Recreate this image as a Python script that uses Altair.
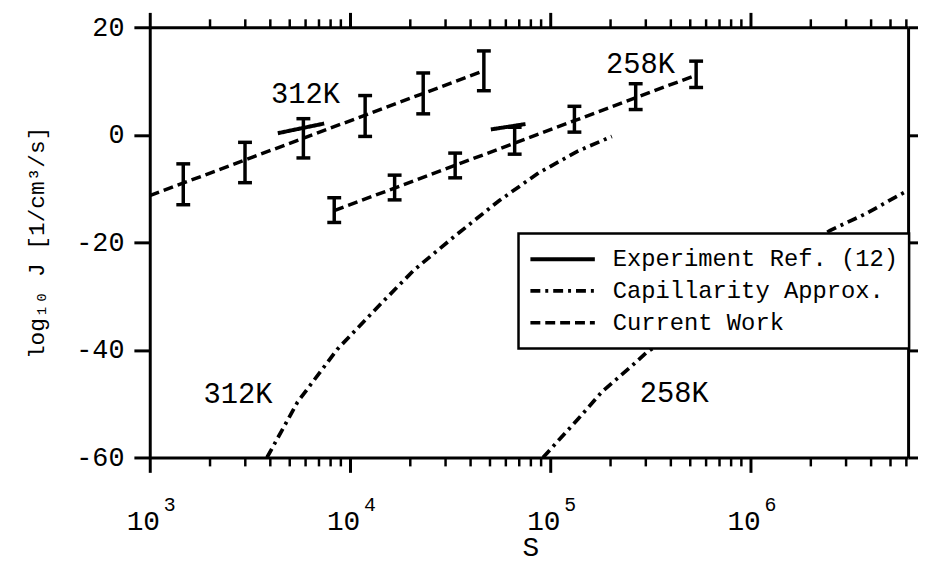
import altair as alt
import pandas as pd

# ---------------- data ----------------
series_names = ["Experiment Ref. (12)", "Capillarity Approx.", "Current Work"]

# Current Work error bars (312 K)
cw312_S = [1.47e3, 2.99e3, 5.85e3, 1.19e4, 2.32e4, 4.66e4]
cw312_lo = [-13.0, -8.9, -4.3, -0.3, 3.9, 8.2]
cw312_hi = [-5.4, -1.4, 3.0, 7.3, 11.5, 15.6]

# Current Work error bars (258 K)
cw258_S = [8.34e3, 1.67e4, 3.35e4, 6.64e4, 1.32e5, 2.67e5, 5.35e5]
cw258_lo = [-16.3, -12.1, -8.0, -3.6, 0.5, 4.7, 8.8]
cw258_hi = [-11.7, -7.5, -3.4, 1.4, 5.3, 9.5, 13.7]

# Current Work fitted lines
cw312_line_S = [1.0e3, 4.66e4]
cw312_line_J = [-11.3, 11.9]
cw258_line_S = [8.34e3, 5.35e5]
cw258_line_J = [-14.1, 11.1]

# Experiment Ref. (12)
exp312_S = [4.36e3, 7.43e3]
exp312_J = [0.3, 2.1]
exp258_S = [5.05e4, 7.52e4]
exp258_J = [1.0, 2.0]

# Capillarity Approx.
cap312_S = [3.85e3, 5.47e3, 8.63e3, 1.41e4, 2.08e4, 3.27e4, 5.53e4, 8.73e4, 1.38e5, 2.03e5]
cap312_J = [-60.0, -49.7, -39.9, -31.6, -25.2, -19.1, -12.3, -7.1, -3.0, -0.3]
cap258_S = [9.2e4, 1.38e5, 1.81e5, 2.55e5, 3.02e5, 2.49e6, 3.75e6, 6.12e6]
cap258_J = [-60.0, -52.8, -47.8, -43.0, -40.5, -17.8, -14.7, -10.3]

# temperature labels
label_text = ["312K", "258K", "312K", "258K"]
label_S = [5.99e3, 2.82e5, 2.76e3, 4.16e5]
label_J = [7.6, 13.2, -48.2, -48.0]

# axes
x_domain = [1.0e3, 6.12e6]
y_domain = [-60, 20]
decades = [1.0e3, 1.0e4, 1.0e5, 1.0e6]
decade_exp = ["3", "4", "5", "6"]
minor_ticks = [2e3, 3e3, 4e3, 5e3, 6e3, 7e3, 8e3, 9e3,
               2e4, 3e4, 4e4, 5e4, 6e4, 7e4, 8e4, 9e4,
               2e5, 3e5, 4e5, 5e5, 6e5, 7e5, 8e5, 9e5,
               2e6, 3e6, 4e6, 5e6, 6e6]
y_ticks = [-60, -40, -20, 0, 20]

# ---------------- tables ----------------
def curve(S, J, series, name):
    return pd.DataFrame({"S": S, "J": J, "series": series, "curve": name})

lines_df = pd.concat([
    curve(exp312_S, exp312_J, series_names[0], "exp312"),
    curve(exp258_S, exp258_J, series_names[0], "exp258"),
    curve(cap312_S, cap312_J, series_names[1], "cap312"),
    curve(cap258_S, cap258_J, series_names[1], "cap258"),
    curve(cw312_line_S, cw312_line_J, series_names[2], "cw312"),
    curve(cw258_line_S, cw258_line_J, series_names[2], "cw258"),
], ignore_index=True)

eb_df = pd.DataFrame({
    "S": cw312_S + cw258_S,
    "lo": cw312_lo + cw258_lo,
    "hi": cw312_hi + cw258_hi,
})
caps_df = pd.DataFrame({
    "S": cw312_S + cw258_S + cw312_S + cw258_S,
    "J": cw312_lo + cw258_lo + cw312_hi + cw258_hi,
})
labels_df = pd.DataFrame({"S": label_S, "J": label_J, "text": label_text})
sup_df = pd.DataFrame({"S": decades, "text": decade_exp})
minor_df = pd.DataFrame({"S": minor_ticks})

W, H = 765, 434
xscale = alt.Scale(type="log", domain=x_domain, nice=False)
yscale = alt.Scale(domain=y_domain, nice=False)

x_axis_bottom = alt.Axis(
    orient="bottom", values=decades, labelExpr="'10'", labelFontSize=28,
    labelOffset=-7, labelBaseline="alphabetic", labelPadding=58, labelFlush=False,
    labelOverlap=False, labelColor="black", tickSize=15, tickWidth=3,
    tickColor="black", domainWidth=3, domainColor="black", grid=False,
    title="S", titleFontSize=28, titleFontWeight="normal", titleColor="black",
    titleX=384, titleY=91, titleBaseline="middle",
)
y_axis_left = alt.Axis(
    orient="left", values=y_ticks, labelExpr="datum.value + ''", labelFontSize=27,
    labelPadding=10, labelColor="black", tickSize=16, tickWidth=3, tickColor="black",
    domainWidth=3, domainColor="black", grid=False,
    title="log₁₀ J [1/cm³/s]", titleFontSize=23, titleFontWeight="normal",
    titleColor="black", titleX=-114, titleY=217, titleAlign="center",
    titleBaseline="middle",
)
x_axis_top = alt.Axis(
    orient="top", values=decades, labels=False, tickSize=15, tickWidth=3,
    tickColor="black", domainWidth=3, domainColor="black", grid=False, title=None,
)
y_axis_right = alt.Axis(
    orient="right", values=y_ticks, labels=False, tickSize=12, tickWidth=3,
    tickColor="black", domainWidth=3, domainColor="black", grid=False, title=None,
)

lines = alt.Chart(lines_df).mark_line(color="black", clip=True).encode(
    x=alt.X("S:Q", scale=xscale, axis=x_axis_bottom),
    y=alt.Y("J:Q", scale=yscale, axis=y_axis_left),
    detail="curve:N",
    strokeDash=alt.StrokeDash(
        "series:N",
        scale=alt.Scale(domain=series_names, range=[[1, 0], [10, 5, 3, 5], [10, 5]]),
        legend=alt.Legend(
            title=None, orient="none", legendX=372, legendY=208,
            fillColor="white", strokeColor="black", padding=10,
            symbolType="stroke", symbolSize=4225, symbolStrokeWidth=3.5,
            symbolStrokeColor="black", clipHeight=32, rowPadding=0,
            labelFontSize=24, labelOffset=16, labelLimit=500, labelColor="black",
        ),
    ),
    strokeWidth=alt.StrokeWidth(
        "series:N", scale=alt.Scale(domain=series_names, range=[4, 3.5, 3.5]), legend=None
    ),
)

bars = alt.Chart(eb_df).mark_rule(color="black", strokeWidth=3.5).encode(
    x=alt.X("S:Q", scale=xscale, axis=x_axis_top),
    y=alt.Y("lo:Q", scale=yscale, axis=y_axis_right),
    y2="hi:Q",
)

caps = alt.Chart(caps_df).mark_tick(
    color="black", orient="horizontal", size=14, thickness=3.5, opacity=1
).encode(
    x=alt.X("S:Q", scale=xscale, axis=None),
    y=alt.Y("J:Q", scale=yscale, axis=None),
)

labels = alt.Chart(labels_df).mark_text(
    fontSize=29, color="black", align="center", baseline="middle"
).encode(
    x=alt.X("S:Q", scale=xscale, axis=None),
    y=alt.Y("J:Q", scale=yscale, axis=None),
    text="text:N",
)

sups = alt.Chart(sup_df).mark_text(
    fontSize=20, color="black", align="center", baseline="alphabetic", dx=20
).encode(
    x=alt.X("S:Q", scale=xscale, axis=None),
    y=alt.value(H + 54),
    text="text:N",
)

minor_bottom = alt.Chart(minor_df).mark_rule(color="black", strokeWidth=2.5).encode(
    x=alt.X("S:Q", scale=xscale, axis=None),
    y=alt.value(H),
    y2=alt.value(H + 9),
)
minor_top = alt.Chart(minor_df).mark_rule(color="black", strokeWidth=2.5).encode(
    x=alt.X("S:Q", scale=xscale, axis=None),
    y=alt.value(0),
    y2=alt.value(-8),
)

chart = alt.layer(
    lines, bars, caps, labels, sups, minor_bottom, minor_top
).properties(
    width=W, height=H,
    padding={"left": 143, "top": 17, "right": 10, "bottom": 101},
    autosize=alt.AutoSizeParams(type="none"),
).configure(
    font="Liberation Mono",
).configure_view(
    stroke=None,
).configure_legend(
    strokeWidth=2.5,
)

chart.save("out.html", embed_options={"renderer": "svg", "actions": False})
